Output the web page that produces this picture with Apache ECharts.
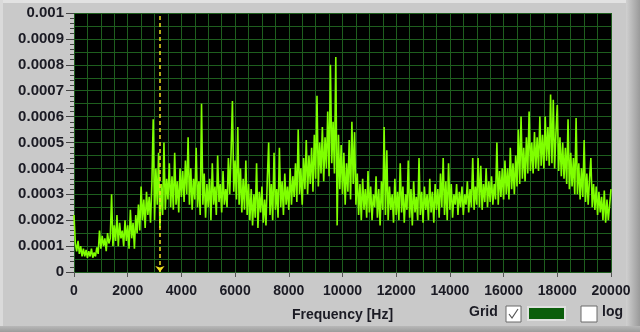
<!DOCTYPE html>
<html><head><meta charset="utf-8">
<script src="https://cdn.jsdelivr.net/npm/echarts@6/dist/echarts.min.js"></script>
<style>html,body{margin:0;padding:0;background:#c9c9c9;}#c{width:640px;height:332px;}</style>
</head><body><div id="c"></div>
<script>
// Spectrum magnitude in units of 1e-4, sampled every 50 Hz from 0 to 20000 Hz
const freqStepHz = 50;
const magnitude = [
 2.2,1.1,0.8,1.2,0.7,1.0,0.6,0.9,0.6,0.85,0.55,0.8,0.6,0.9,0.55,0.75,0.6,0.95,0.7,1.6,
 0.9,1.4,1.0,1.3,0.8,1.5,1.1,1.3,3.0,1.0,1.8,1.2,2.2,1.0,1.9,1.3,1.6,1.0,2.0,1.2,
 1.8,0.9,2.4,1.3,1.9,0.9,2.2,1.5,2.6,1.6,3.3,2.0,2.8,1.7,3.1,2.2,2.9,1.9,3.4,5.9,
 2.0,4.0,2.6,4.6,1.7,3.4,2.2,5.0,2.4,3.6,2.8,4.2,2.5,3.7,2.4,4.6,2.6,3.5,2.3,4.0,
 2.9,3.9,2.7,4.3,3.0,5.2,2.6,4.0,2.4,3.6,2.8,4.8,2.5,3.5,2.2,6.5,2.6,3.8,2.1,3.4,
 2.5,3.6,2.0,4.2,2.6,3.3,2.2,4.5,2.7,3.4,2.3,3.9,2.6,3.2,2.5,4.4,3.0,4.6,6.6,3.1,
 4.3,2.8,5.6,2.6,4.0,2.3,3.6,2.4,4.3,2.2,3.4,2.0,3.2,1.8,3.0,2.1,4.2,1.7,3.1,2.3,
 3.3,1.9,2.8,1.8,3.6,5.0,2.2,3.4,2.0,4.6,2.4,3.2,2.1,4.8,2.5,3.5,2.2,3.8,2.6,3.3,
 2.4,4.0,2.6,3.7,2.9,4.2,2.7,5.5,3.0,4.0,2.6,4.4,3.2,5.1,3.0,4.5,3.4,4.8,3.1,5.3,
 3.6,6.8,3.3,5.0,3.8,5.6,3.5,5.2,4.0,6.2,3.7,8.0,4.2,5.8,3.8,8.3,1.8,5.3,3.2,4.9,
 3.0,4.6,2.6,4.2,3.1,5.1,2.8,5.8,3.4,5.4,2.6,3.8,2.2,3.4,2.0,3.6,2.4,3.2,2.1,3.9,
 2.3,3.3,2.0,3.0,2.5,3.7,2.1,3.2,1.8,3.5,2.4,5.6,2.2,4.7,2.0,3.3,2.4,3.0,1.9,3.6,
 2.2,3.1,2.0,4.2,2.3,3.3,1.9,3.0,2.4,4.3,2.1,3.2,1.8,3.5,2.3,2.9,2.0,4.4,2.2,3.1,
 1.9,3.3,2.4,3.0,2.0,3.6,2.3,3.1,1.9,3.4,2.4,3.2,2.1,3.8,2.5,4.4,2.2,3.5,2.0,4.2,
 2.4,3.4,2.1,3.0,2.6,3.4,2.2,3.1,2.5,3.3,2.2,3.0,2.6,3.5,2.3,3.2,2.5,4.4,2.4,3.3,
 2.6,4.4,2.5,4.1,2.4,3.4,2.7,4.0,2.5,3.5,2.7,3.7,2.6,3.4,2.8,5.0,2.6,3.9,2.9,4.0,
 2.8,4.3,3.0,4.0,2.8,4.8,3.2,4.2,3.0,4.5,3.3,5.5,3.4,6.0,3.6,4.8,3.5,5.2,3.8,6.2,
 3.9,5.0,3.8,5.4,4.0,5.2,3.9,6.0,4.1,5.3,4.0,6.0,4.3,5.6,4.1,6.85,4.2,6.65,4.0,5.4,
 6.45,3.9,5.2,3.7,5.0,3.6,4.8,3.4,5.9,3.2,4.6,3.3,4.4,3.0,5.95,3.0,4.2,2.8,4.0,2.9,
 5.1,2.7,3.8,2.6,3.6,4.4,2.5,3.4,2.4,3.3,2.2,3.1,2.3,2.9,2.0,3.15,1.9,2.8,2.0,2.6,
 3.2
];
const xTickLabels = ['0','2000','4000','6000','8000','10000','12000','14000','16000','18000','20000'];
const yTickLabels = ['0','0.0001','0.0002','0.0003','0.0004','0.0005','0.0006','0.0007','0.0008','0.0009','0.001'];
const cursorFreqHz = 3200;
const xAxisName = 'Frequency [Hz]';

const seriesData = magnitude.map((v, i) => [i * freqStepHz, v]);

const chart = echarts.init(document.getElementById('c'), null, {renderer: 'canvas'});
const fam = 'Liberation Sans, Arial, sans-serif';
chart.setOption({
  animation: false,
  backgroundColor: '#c9c9c9',
  grid: {left: 74, right: 29, top: 13, bottom: 60, show: true, backgroundColor: '#000', borderWidth: 0},
  xAxis: {
    type: 'value', min: 0, max: 20000, interval: 2000,
    axisLine: {show: false},
    axisTick: {show: true, length: 5, lineStyle: {color: '#555'}},
    axisLabel: {margin: 12, fontFamily: fam, fontWeight: 'bold', fontSize: 14, color: '#1b1b24', formatter: v => xTickLabels[Math.round(v / 2000)]},
    splitLine: {show: true, lineStyle: {color: '#1e5e1e', width: 1}},
    minorTick: {show: false, splitNumber: 4},
    minorSplitLine: {show: true, lineStyle: {color: '#1e5e1e', width: 1}},
    name: xAxisName, nameLocation: 'middle', nameGap: 36,
    nameTextStyle: {fontFamily: fam, fontWeight: 'bold', fontSize: 14, color: '#1b1b24'}
  },
  yAxis: [{
    type: 'value', min: 0, max: 10, interval: 1,
    axisLine: {show: false},
    axisTick: {show: true, length: 8, lineStyle: {color: '#444'}},
    minorTick: {show: true, splitNumber: 5, length: 4, lineStyle: {color: '#444'}},
    axisLabel: {margin: 10, fontFamily: fam, fontWeight: 'bold', fontSize: 15, color: '#1b1b24', formatter: v => yTickLabels[Math.round(v)]},
    splitLine: {show: false}
  }, {
    type: 'value', min: 0, max: 10, interval: 0.5, position: 'left',
    axisLine: {show: false}, axisTick: {show: false}, axisLabel: {show: false},
    splitLine: {show: true, lineStyle: {color: '#1e5e1e', width: 1}}
  }],
  series: [{
    type: 'line', data: seriesData, showSymbol: false,
    lineStyle: {color: '#7fff00', width: 1.6}, itemStyle: {color: '#7fff00'},
    z: 3,
    markLine: {
      silent: true, symbol: ['arrow', 'none'], symbolSize: [7, 6],
      label: {show: false},
      lineStyle: {color: '#f0e020', type: [4, 3], width: 1.5},
      data: [[{coord: [cursorFreqHz, 0]}, {coord: [cursorFreqHz, 10]}]]
    }
  }],
  graphic: [
    {type: 'rect', shape: {x: 0, y: 0, width: 640, height: 3}, style: {fill: '#e2e2e2'}, z: -1},
    {type: 'rect', shape: {x: 0, y: 0, width: 3, height: 332}, style: {fill: '#dadada'}, z: -1},
    {type: 'rect', shape: {x: 626, y: 0, width: 14, height: 332}, style: {fill: new echarts.graphic.LinearGradient(0,0,1,0,[{offset:0,color:'#d0d0d0'},{offset:1,color:'#9a9a9a'}])}, z: -1},
    {type: 'rect', shape: {x: 0, y: 326, width: 640, height: 6}, style: {fill: new echarts.graphic.LinearGradient(0,0,0,1,[{offset:0,color:'#b8b8b8'},{offset:1,color:'#9c9c9c'}])}, z: -1},
    {type: 'text', left: 469, top: 305, style: {text: 'Grid', font: 'bold 14px Liberation Sans, Arial, sans-serif', fill: '#1b1b24'}},
    {type: 'rect', shape: {x: 506, y: 306, width: 15, height: 16}, style: {fill: '#fff', stroke: '#6a6a6a', lineWidth: 1}},
    {type: 'polyline', shape: {points: [[509, 314], [512, 318], [518, 309]]}, style: {stroke: '#555', lineWidth: 1.2, fill: null}},
    {type: 'rect', shape: {x: 528, y: 307, width: 37, height: 13}, style: {fill: '#0b5e0b', stroke: '#e0e0e0', lineWidth: 2}},
    {type: 'rect', shape: {x: 581, y: 306, width: 16, height: 16}, style: {fill: '#fff', stroke: '#6a6a6a', lineWidth: 1}},
    {type: 'text', left: 602, top: 305, style: {text: 'log', font: 'bold 14px Liberation Sans, Arial, sans-serif', fill: '#1b1b24'}}
  ]
});
</script></body></html>
